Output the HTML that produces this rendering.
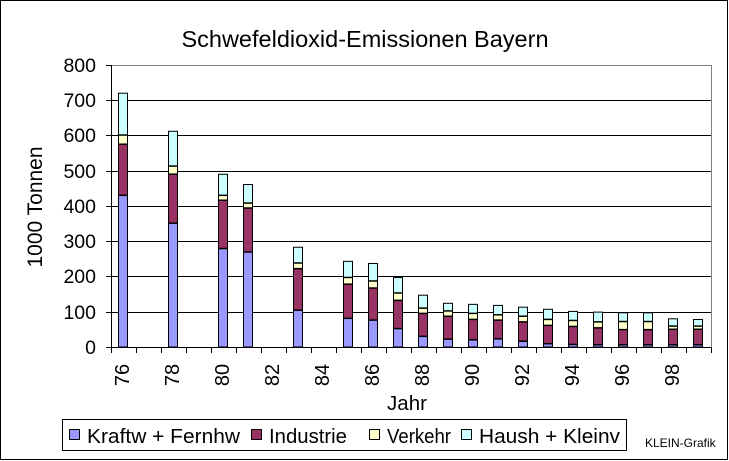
<!DOCTYPE html>
<html><head><meta charset="utf-8"><style>
html,body{margin:0;padding:0;background:#fff}
svg{display:block}
text{font-family:"Liberation Sans",Arial,sans-serif;fill:#000}
</style></head><body>
<svg id="s" width="729" height="461" viewBox="0 0 729 461" xmlns="http://www.w3.org/2000/svg">
<rect x="0.5" y="0.5" width="727" height="459" fill="#fff" stroke="#000"/>
<text x="365" y="47" font-size="23.5" text-anchor="middle">Schwefeldioxid-Emissionen Bayern</text>
<g stroke="#000" stroke-width="1">
<line x1="112" y1="100.5" x2="712" y2="100.5"/>
<line x1="112" y1="135.5" x2="712" y2="135.5"/>
<line x1="112" y1="171.5" x2="712" y2="171.5"/>
<line x1="112" y1="206.5" x2="712" y2="206.5"/>
<line x1="112" y1="241.5" x2="712" y2="241.5"/>
<line x1="112" y1="276.5" x2="712" y2="276.5"/>
<line x1="112" y1="312.5" x2="712" y2="312.5"/>
</g>
<line x1="112" y1="65.5" x2="712" y2="65.5" stroke="#808080"/>
<line x1="711.5" y1="65" x2="711.5" y2="347" stroke="#808080"/>
<g id="bars"></g>
<g stroke="#000" stroke-width="1">
<line x1="111.5" y1="65" x2="111.5" y2="353"/>
<line x1="106" y1="347.5" x2="712" y2="347.5"/>
<line x1="106" y1="65.5" x2="111" y2="65.5"/>
<line x1="106" y1="100.5" x2="111" y2="100.5"/>
<line x1="106" y1="135.5" x2="111" y2="135.5"/>
<line x1="106" y1="171.5" x2="111" y2="171.5"/>
<line x1="106" y1="206.5" x2="111" y2="206.5"/>
<line x1="106" y1="241.5" x2="111" y2="241.5"/>
<line x1="106" y1="276.5" x2="111" y2="276.5"/>
<line x1="106" y1="312.5" x2="111" y2="312.5"/>
</g>
<g id="ticks" stroke="#000"></g>
<g font-size="19.5" text-anchor="end">
<text x="96" y="72">800</text>
<text x="96" y="107">700</text>
<text x="96" y="142">600</text>
<text x="96" y="178">500</text>
<text x="96" y="213">400</text>
<text x="96" y="248">300</text>
<text x="96" y="283">200</text>
<text x="96" y="319">100</text>
<text x="96" y="354">0</text>
</g>
<text transform="translate(42,207) rotate(-90)" font-size="21" text-anchor="middle">1000 Tonnen</text>
<g font-size="20" text-anchor="middle">
<text transform="translate(129,375) rotate(-90)">76</text>
<text transform="translate(179,375) rotate(-90)">78</text>
<text transform="translate(229,375) rotate(-90)">80</text>
<text transform="translate(279,375) rotate(-90)">82</text>
<text transform="translate(329,375) rotate(-90)">84</text>
<text transform="translate(379,375) rotate(-90)">86</text>
<text transform="translate(429,375) rotate(-90)">88</text>
<text transform="translate(479,375) rotate(-90)">90</text>
<text transform="translate(529,375) rotate(-90)">92</text>
<text transform="translate(579,375) rotate(-90)">94</text>
<text transform="translate(629,375) rotate(-90)">96</text>
<text transform="translate(679,375) rotate(-90)">98</text>
</g>
<text x="407" y="410" font-size="20.5" text-anchor="middle">Jahr</text>
<rect x="62.5" y="419.5" width="564" height="31" fill="#fff" stroke="#000"/>
<g stroke="#000">
<rect x="69.5" y="429.5" width="10" height="10" fill="#9999ff"/>
<rect x="251.5" y="429.5" width="10" height="10" fill="#993366"/>
<rect x="369.5" y="429.5" width="10" height="10" fill="#ffffcc"/>
<rect x="461.5" y="429.5" width="10" height="10" fill="#ccffff"/>
</g>
<g font-size="20.5">
<text x="87" y="443" textLength="153" lengthAdjust="spacingAndGlyphs">Kraftw + Fernhw</text>
<text x="269" y="443" textLength="78" lengthAdjust="spacingAndGlyphs">Industrie</text>
<text x="387" y="443" textLength="64" lengthAdjust="spacingAndGlyphs">Verkehr</text>
<text x="479" y="443" textLength="141" lengthAdjust="spacingAndGlyphs">Haush + Kleinv</text>
</g>
<text x="645" y="447" font-size="12">KLEIN-Grafik</text>
</svg>
<script>
var d={76:[431,576,602,720],78:[352,491,514,612],80:[280,417,431,490],81:[270,395,409,461],83:[105,223,239,283],
85:[82,179,198,243],86:[77,168,188,237],87:[53,133,154,197],88:[31,96,111,147],89:[23,88,103,124],90:[21,79,96,121],
91:[24,77,92,118],92:[17,72,88,113],93:[10,62,79,107],94:[8,59,76,101],95:[7,55,72,99],96:[7,50,73,97],97:[7,50,73,97],
98:[7,51,60,80],99:[7,51,60,78]};
var cols=["#9999ff","#993366","#ffffcc","#ccffff"];
var g=document.getElementById("bars"),h="";
function Y(v){return 347-v*0.3525;}
for(var yr in d){var a=d[yr],x=111.5+(yr-76)*25+7,prev=0;
for(var i=0;i<4;i++){var y1=Y(a[i]),y0=Y(prev);
h+='<rect x="'+x+'" y="'+y1+'" width="9" height="'+(y0-y1)+'" fill="'+cols[i]+'" stroke="#000" stroke-width="1"/>';
if(i<3)h+='<line x1="'+x+'" y1="'+y1+'" x2="'+(x+9)+'" y2="'+y1+'" stroke="#000" stroke-width="2"/>';
prev=a[i];}}
g.innerHTML=h;
var t="";for(var k=0;k<=24;k++){var xx=111.5+k*25;t+='<line x1="'+xx+'" y1="347" x2="'+xx+'" y2="353"/>';}
document.getElementById("ticks").innerHTML=t;
</script>
</body></html>
